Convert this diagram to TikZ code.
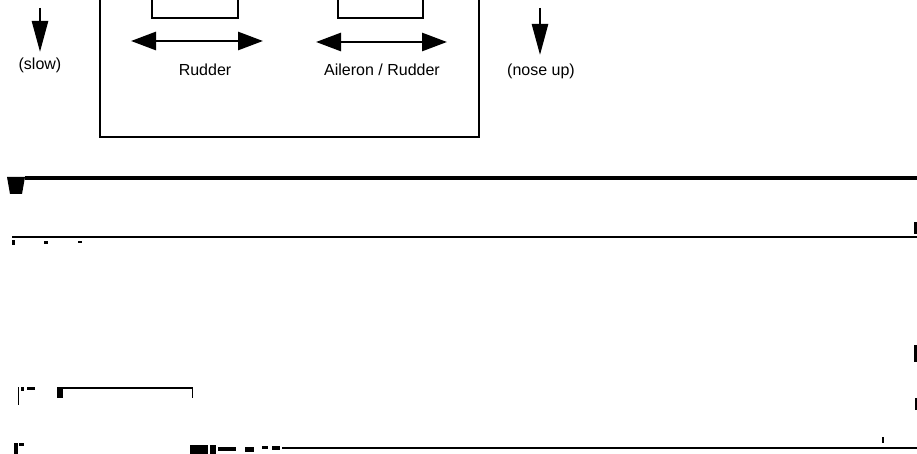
\documentclass[tikz,border=0pt]{standalone}
\usepackage{fontspec}
\setmainfont{Liberation Sans}
\usetikzlibrary{arrows.meta}
\begin{document}
\begin{tikzpicture}[x=1pt,y=-1pt,
  lbl/.style={inner sep=0pt,font=\fontsize{16}{18}\selectfont},
  frame/.style={line width=2.6pt},
  downarr/.style={line width=2.6pt,-{Triangle[length=31pt,width=16pt]}},
  dblarr/.style={line width=2.8pt,{Triangle[length=25pt,width=18pt]}-{Triangle[length=25pt,width=18pt]}},
  rule/.style={line width=3.4pt},
  thinrule/.style={line width=2.8pt},
  speck/.style={fill=black}]
\useasboundingbox (0,0) rectangle (917,454);
% coordinates
\coordinate (la0) at (40,8);   \coordinate (la1) at (40,52);
\coordinate (ra0) at (540,8);  \coordinate (ra1) at (540,55);
\coordinate (d1a) at (131,41); \coordinate (d1b) at (263,41);
\coordinate (d2a) at (316,42); \coordinate (d2b) at (447,42);
% side arrows
\draw[downarr] (la0) -- (la1);
\draw[downarr] (ra0) -- (ra1);
\node[lbl] (slow) at (40,65) {(slow)};
\node[lbl] (noseup) at (541,71) {(nose up)};
% box
\draw[frame] (100,0) -- (100,137) -- (479,137) -- (479,0);
% inner brackets
\draw[frame] (152,0) -- (152,18) -- (238,18) -- (238,0);
\draw[frame] (338,0) -- (338,18) -- (423,18) -- (423,0);
% double arrows
\draw[dblarr] (d1a) -- (d1b);
\draw[dblarr] (d2a) -- (d2b);
\node[lbl] (rudder) at (205,70) {Rudder};
\node[lbl] (aileron) at (382,70) {Aileron / Rudder};
% long rules
\draw[rule] (25,178) -- (917,178);
\fill (7,177) -- (25,177) -- (22,194) -- (10,194) -- cycle;
\draw[thinrule] (12,237) -- (917,237);
\fill[speck] (12,240) rectangle (15,245);
\fill[speck] (44,241) rectangle (48,244);
\fill[speck] (78,241) rectangle (82,243);
\fill[speck] (914,222) rectangle (917,234);
% lower fragments
\draw[line width=2.8pt] (57,388) -- (193,388);
\fill (57,388) rectangle (63,398);
\draw[line width=1pt] (192,388) -- (192,398);
\draw[line width=1pt] (18,387) -- (18,405);
\fill[speck] (21,387) rectangle (24,391);
\fill[speck] (27,387) rectangle (35,390);
\fill[speck] (914,345) rectangle (917,362);
\fill[speck] (915,398) rectangle (917,410);
\fill[speck] (882,437) rectangle (884,443);
\fill[speck] (14,443) rectangle (18,454);
\fill[speck] (19,443) rectangle (24,446);
\draw[line width=2.6pt] (282,448) -- (917,448);
\fill[speck] (190,445) rectangle (208,454);
\fill[speck] (210,445) rectangle (216,454);
\fill[speck] (218,447) rectangle (236,451);
\fill[speck] (245,447) rectangle (254,452);
\fill[speck] (262,446) rectangle (268,449);
\fill[speck] (272,446) rectangle (280,450);
\end{tikzpicture}
\end{document}
